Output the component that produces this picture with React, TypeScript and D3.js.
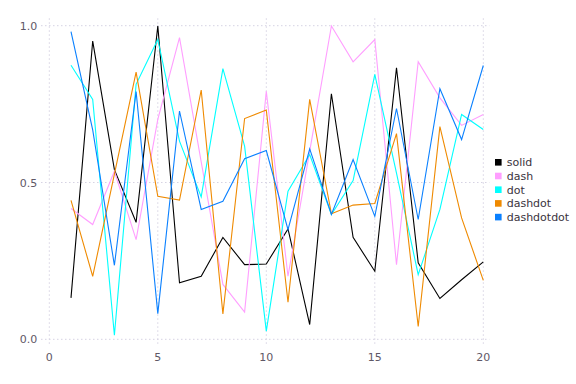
import React, { useEffect, useRef } from "react";
import * as d3 from "d3";

// x positions 1..20
const xs = [1, 2, 3, 4, 5, 6, 7, 8, 9, 10, 11, 12, 13, 14, 15, 16, 17, 18, 19, 20];

const solid = [0.132, 0.951, 0.541, 0.373, 0.999, 0.18, 0.201, 0.325, 0.238, 0.24, 0.352, 0.047, 0.783, 0.325, 0.217, 0.866, 0.244, 0.13, 0.19, 0.247];
const dash = [0.417, 0.366, 0.536, 0.318, 0.701, 0.962, 0.566, 0.175, 0.087, 0.791, 0.201, 0.6, 0.999, 0.885, 0.956, 0.238, 0.885, 0.77, 0.682, 0.717];
const dot = [0.874, 0.765, 0.013, 0.813, 0.956, 0.632, 0.454, 0.863, 0.616, 0.026, 0.472, 0.589, 0.398, 0.506, 0.845, 0.53, 0.206, 0.414, 0.717, 0.669];
const dashdot = [0.443, 0.201, 0.527, 0.852, 0.456, 0.444, 0.795, 0.081, 0.704, 0.731, 0.118, 0.765, 0.4, 0.428, 0.433, 0.656, 0.041, 0.678, 0.387, 0.188];
const dashdotdot = [0.981, 0.668, 0.236, 0.79, 0.082, 0.728, 0.414, 0.44, 0.576, 0.602, 0.35, 0.607, 0.398, 0.573, 0.392, 0.736, 0.382, 0.799, 0.637, 0.873];

const names = ["solid", "dash", "dot", "dashdot", "dashdotdot"];
const colors = ["#000000", "#ff9eff", "#00ffff", "#ef8a00", "#0a80ff"];
const seriesList = [solid, dash, dot, dashdot, dashdotdot];

const xTicks = [0, 5, 10, 15, 20];
const yTicks = [0, 0.5, 1.0];

export default function App() {
  const ref = useRef<SVGSVGElement>(null);

  useEffect(() => {
    const svg = d3.select(ref.current);
    svg.selectAll("*").remove();

    // plot box
    const left = 41, right = 489.3, top = 18.3, bottom = 345;

    const x = d3.scaleLinear().domain([0, 20]).range([49.3, 483.3]);
    const y = d3.scaleLinear().domain([0, 1]).range([339.3, 25.7]);

    const grid = svg.append("g");
    grid.selectAll(".vg")
      .data(xTicks)
      .enter()
      .append("line")
      .attr("x1", (d) => x(d)).attr("x2", (d) => x(d))
      .attr("y1", top).attr("y2", bottom)
      .attr("stroke", "#d6d3e3")
      .attr("stroke-dasharray", "1.5,2.5");
    grid.selectAll(".hg")
      .data(yTicks)
      .enter()
      .append("line")
      .attr("x1", left).attr("x2", right)
      .attr("y1", (d) => y(d)).attr("y2", (d) => y(d))
      .attr("stroke", "#d6d3e3")
      .attr("stroke-dasharray", "1.5,2.5");

    const labelColor = "#5f5866";
    svg.append("g").selectAll("text")
      .data(xTicks)
      .enter()
      .append("text")
      .attr("x", (d) => x(d))
      .attr("y", 361)
      .attr("text-anchor", "middle")
      .attr("font-family", "DejaVu Sans")
      .attr("font-size", 11)
      .attr("fill", labelColor)
      .text((d) => String(d));
    svg.append("g").selectAll("text")
      .data(yTicks)
      .enter()
      .append("text")
      .attr("x", 37.3)
      .attr("y", (d) => y(d) + 4)
      .attr("text-anchor", "end")
      .attr("font-family", "DejaVu Sans")
      .attr("font-size", 11)
      .attr("fill", labelColor)
      .text((d) => d3.format(".1f")(d));

    const line = d3.line<number>()
      .x((d, i) => x(xs[i]))
      .y((d) => y(d));

    seriesList.forEach((s, k) => {
      svg.append("path")
        .datum(s)
        .attr("d", line)
        .attr("fill", "none")
        .attr("stroke", colors[k])
        .attr("stroke-width", 1.1);
    });

    const legend = svg.append("g");
    names.forEach((n, k) => {
      const cy = 162.3 + k * 13.7;
      legend.append("rect")
        .attr("x", 495).attr("y", cy - 3.3)
        .attr("width", 6.6).attr("height", 6.6)
        .attr("fill", colors[k]);
      legend.append("text")
        .attr("x", 506.7).attr("y", cy + 4)
        .attr("font-family", "DejaVu Sans")
        .attr("font-size", 11)
        .attr("fill", "#3a3440")
        .text(n);
    });
  }, []);

  return (
    <svg
      ref={ref}
      width={576}
      height={384}
      style={{ position: "absolute", left: 0, top: 0, background: "#fff" }}
    />
  );
}
